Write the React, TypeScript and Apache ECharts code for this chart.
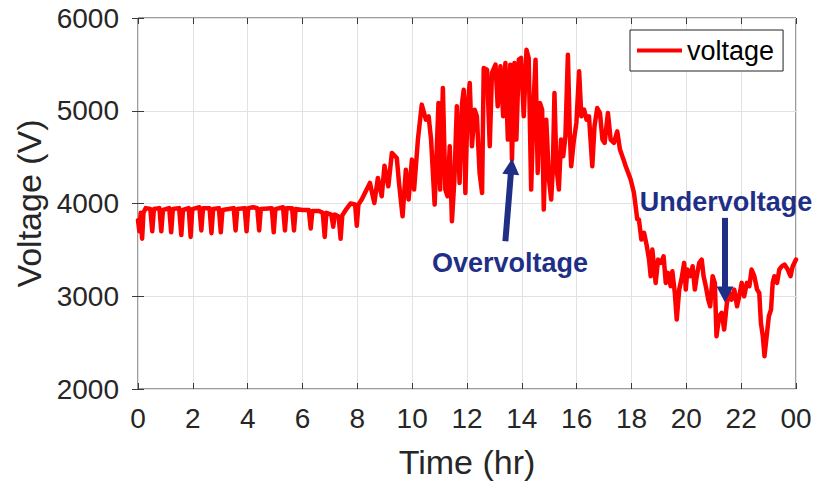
import { useEffect, useRef } from "react";
import * as echarts from "echarts";

// Time of day (hr) and measured feeder voltage (V)
const hours = [
  0.0, 0.05, 0.1, 0.15, 0.2, 0.28, 0.45, 0.52, 0.58, 0.78, 0.85, 0.91, 1.14, 1.21, 1.27, 1.5, 1.58, 1.64,
  1.85, 1.92, 1.98, 2.24, 2.31, 2.37, 2.61, 2.68, 2.74, 2.95, 3.02, 3.08, 3.3, 3.49, 3.56, 3.62, 3.89, 3.96,
  4.02, 4.2, 4.35, 4.42, 4.48, 4.88, 4.95, 5.01, 5.29, 5.36, 5.42, 5.62, 5.69, 5.75, 6.0, 6.23, 6.3, 6.36,
  6.6, 6.74, 6.81, 6.87, 7.05, 7.12, 7.18, 7.32, 7.39, 7.45, 7.6, 7.75, 7.92, 7.98, 8.04,
  8.16, 8.34, 8.46, 8.62, 8.75, 8.89, 8.99, 9.13, 9.26, 9.44, 9.52, 9.65, 9.77, 9.87, 9.99, 10.07, 10.21,
  10.35, 10.5, 10.6, 10.69, 10.82, 10.96, 11.02, 11.12, 11.21, 11.29, 11.37, 11.45, 11.54, 11.63, 11.73,
  11.82, 11.88, 11.94, 12.02, 12.1, 12.18, 12.28, 12.36, 12.46, 12.55, 12.61, 12.73, 12.83, 12.91, 13.04,
  13.12, 13.22, 13.32, 13.4, 13.49, 13.58, 13.64, 13.73, 13.8, 13.89, 13.97, 14.07, 14.17, 14.25, 14.34,
  14.44, 14.5, 14.58, 14.66, 14.74, 14.8, 14.89, 14.99, 15.07, 15.13, 15.19, 15.26, 15.35, 15.43, 15.51,
  15.59, 15.68, 15.75, 15.8, 15.9, 15.99, 16.09, 16.17, 16.27, 16.36, 16.45, 16.57, 16.65, 16.75, 16.85,
  16.94, 17.02, 17.14, 17.24, 17.36, 17.48, 17.58, 17.71, 17.79, 17.88, 17.97, 18.09, 18.15, 18.21, 18.27,
  18.36, 18.46, 18.56, 18.64, 18.7, 18.76, 18.82, 18.88, 18.97, 19.07, 19.17, 19.25, 19.33, 19.43, 19.49,
  19.58, 19.65, 19.74, 19.82, 19.92, 19.98, 20.04, 20.14, 20.23, 20.31, 20.38, 20.47, 20.56, 20.63, 20.71,
  20.8, 20.87, 20.96, 21.04, 21.1, 21.2, 21.29, 21.38, 21.48, 21.57, 21.65, 21.75, 21.85, 21.93, 22.02,
  22.11, 22.21, 22.3, 22.38, 22.48, 22.58, 22.66, 22.72, 22.79, 22.85, 22.93, 23.01, 23.09, 23.15, 23.21,
  23.31, 23.39, 23.48, 23.58, 23.7, 23.8, 23.88, 24.0,
];

const volts = [
  3820, 3700, 3900, 3620, 3900, 3950, 3940, 3700, 3940, 3950, 3700, 3930, 3950, 3690, 3940, 3950, 3660, 3930,
  3950, 3640, 3940, 3960, 3710, 3950, 3950, 3680, 3940, 3950, 3690, 3930, 3940, 3950, 3710, 3940, 3950, 3700,
  3950, 3960, 3950, 3710, 3940, 3950, 3690, 3940, 3960, 3710, 3950, 3950, 3710, 3940, 3930, 3930, 3730, 3920,
  3920, 3900, 3640, 3900, 3880, 3750, 3880, 3860, 3620, 3870, 3940, 4000, 3990, 3760, 3990,
  4042, 4150, 4222, 4006, 4276, 4078, 4408, 4186, 4545, 4491, 4222, 3862, 4365, 4042, 4473, 4150, 4689,
  5066, 4904, 4940, 4689, 3988, 5084, 4150, 5246, 4150, 4078, 4617, 3808, 4258, 5048, 4222,
  5084, 5227, 4114, 5048, 5300, 4617, 5012, 4940, 4330, 4114, 5461, 5443, 4617, 5407, 5497,
  5048, 5479, 4940, 5515, 4689, 5497, 4473, 5515, 4689, 5551, 5569, 4940, 5658, 5569, 4150,
  5155, 5551, 4330, 5084, 5012, 3934, 4904, 4258, 4042, 4365, 5192, 4401, 4150, 4689, 4509,
  4725, 5605, 4761, 4401, 4689, 4868, 5425, 4940, 5012, 4904, 4940, 4401, 4832, 5030, 4976,
  4689, 4653, 4976, 4689, 4653, 4778, 4581, 4473, 4401, 4330, 4258, 4114, 3970, 3830, 3827,
  3611, 3683, 3539, 3395, 3216, 3503, 3323, 3144, 3395, 3360, 3431, 3144, 3252, 3108, 3270,
  3036, 2749, 3072, 3180, 3360, 3072, 3288, 3216, 3323, 3072, 3216, 3360, 3395, 3216, 3108,
  2964, 2892, 3216, 3144, 2569, 2785, 2821, 2641, 2928, 3036, 2964, 3072, 2892, 3000, 3144,
  3000, 3144, 3108, 3288, 3216, 3072, 3036, 2713, 2569, 2354, 2569, 2785, 2857, 3144, 3216,
  3144, 3288, 3323, 3342, 3288, 3216, 3323, 3395,
];

// x tick labels every 2 hours; midnight at the end wraps to "00"
const hourTickLabels = ["0", "2", "4", "6", "8", "10", "12", "14", "16", "18", "20", "22", "00"];

// annotation arrows: [start, end] in (hr, V)
const overArrow = [[13.4, 3593], [13.62, 4398]];
const underArrow = [[21.41, 3845], [21.41, 3018]];

const FONT = "'Liberation Sans', Arial, Helvetica, sans-serif";
const AXIS_GRAY = "#3a3a3a";
const TEXT_GRAY = "#262626";
const NAVY = "#1f2f86";

export default function App() {
  const ref = useRef<HTMLDivElement>(null);

  useEffect(() => {
    if (!ref.current) return;
    const chart = echarts.init(ref.current, undefined, { renderer: "svg" });
    const series = hours.map((h, i) => [h, volts[i]]);
    const arrow = (pts: number[][]) => pts.map((c) => ({ coord: c }));

    const annotation = (text: string, x: number, y: number) => ({
      type: "text",
      x,
      y,
      z: 100,
      style: {
        text,
        fontSize: 27,
        fontWeight: "bold",
        fontFamily: FONT,
        fill: NAVY,
        stroke: "none",
        lineWidth: 0,
        align: "center",
        verticalAlign: "middle",
      },
    });

    chart.setOption({
      animation: false,
      backgroundColor: "#ffffff",
      textStyle: { fontFamily: FONT },
      grid: {
        left: 138,
        right: 22,
        top: 18,
        bottom: 100,
        show: true,
        borderColor: AXIS_GRAY,
        borderWidth: 1,
      },
      legend: {
        data: ["voltage"],
        left: 630,
        top: 30,
        orient: "vertical",
        padding: [7, 9, 7, 7],
        borderColor: "#222",
        borderWidth: 1,
        icon: "rect",
        itemWidth: 45,
        itemHeight: 4,
        textStyle: { fontSize: 27, color: "#000", fontFamily: FONT },
        backgroundColor: "#fff",
      },
      xAxis: [
        {
          type: "value",
          min: 0,
          max: 24,
          interval: 2,
          name: "Time (hr)",
          nameLocation: "middle",
          nameGap: 56,
          nameTextStyle: { fontSize: 34, color: TEXT_GRAY, fontFamily: FONT },
          axisLine: { show: false },
          axisTick: { show: true, inside: true, length: 6, lineStyle: { color: AXIS_GRAY } },
          axisLabel: {
            fontSize: 28,
            color: TEXT_GRAY,
            margin: 15,
            fontFamily: FONT,
            formatter: (v: number) => hourTickLabels[Math.round(v / 2)] ?? "",
          },
          splitLine: { show: true, lineStyle: { color: "#e2e2e2", width: 1 } },
        },
        {
          type: "value",
          position: "top",
          min: 0,
          max: 24,
          interval: 2,
          axisLine: { show: false },
          axisTick: { show: true, inside: true, length: 6, lineStyle: { color: AXIS_GRAY } },
          axisLabel: { show: false },
          splitLine: { show: false },
        },
      ],
      yAxis: [
        {
          type: "value",
          min: 2000,
          max: 6000,
          interval: 1000,
          name: "Voltage (V)",
          nameLocation: "middle",
          nameGap: 90,
          nameRotate: 90,
          nameTextStyle: { fontSize: 34, color: TEXT_GRAY, fontFamily: FONT },
          axisLine: { show: false },
          axisTick: { show: true, inside: true, length: 6, lineStyle: { color: AXIS_GRAY } },
          axisLabel: {
            fontSize: 28,
            color: TEXT_GRAY,
            margin: 19,
            fontFamily: FONT,
            formatter: (v: number) => String(v),
          },
          splitLine: { show: true, lineStyle: { color: "#e2e2e2", width: 1 } },
        },
        {
          type: "value",
          position: "right",
          min: 2000,
          max: 6000,
          interval: 1000,
          axisLine: { show: false },
          axisTick: { show: true, inside: true, length: 6, lineStyle: { color: AXIS_GRAY } },
          axisLabel: { show: false },
          splitLine: { show: false },
        },
      ],
      series: [
        {
          name: "voltage",
          type: "line",
          data: series,
          showSymbol: false,
          symbol: "none",
          lineStyle: { color: "#ff0000", width: 4.5, join: "round", cap: "round" },
          itemStyle: { color: "#ff0000" },
          markLine: {
            silent: true,
            symbol: ["none", "triangle"],
            symbolSize: [17, 16],
            label: { show: false },
            lineStyle: { color: NAVY, width: 6, type: "solid" },
            itemStyle: { color: NAVY },
            emphasis: { disabled: true },
            data: [arrow(overArrow), arrow(underArrow)],
          },
        },
      ],
      graphic: [annotation("Overvoltage", 510, 263), annotation("Undervoltage", 726, 202)],
    });

    return () => chart.dispose();
  }, []);

  return (
    <div
      ref={ref}
      style={{ position: "fixed", left: 0, top: 0, width: 818, height: 489, background: "#fff" }}
    />
  );
}
